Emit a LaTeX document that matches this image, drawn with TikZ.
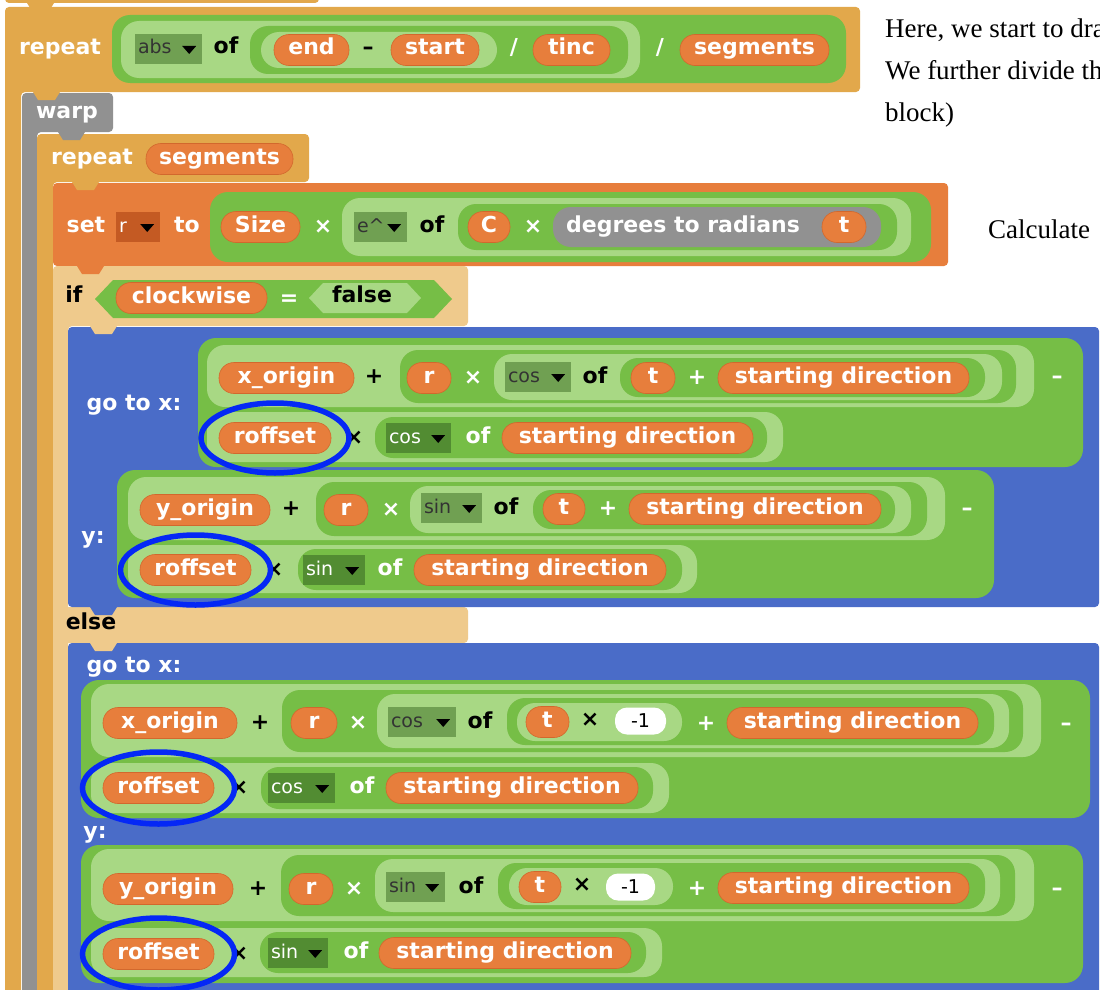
\documentclass[tikz,border=0pt]{standalone}
\usepackage{fontspec}
\newfontfamily\snapfamily{DejaVu Sans}
\newfontfamily\notefamily{Liberation Serif}
\newcommand\snapbold{\snapfamily\bfseries\fontsize{22}{24}\selectfont}
\newcommand\snapthin{\snapfamily\fontsize{19}{21}\selectfont}
\definecolor{ctrl}{RGB}{226,168,75}
\definecolor{ctrlz}{RGB}{239,202,140}
\definecolor{warpgray}{RGB}{145,145,145}
\definecolor{varo}{RGB}{231,126,60}
\definecolor{varod}{RGB}{196,90,35}
\definecolor{opd}{RGB}{118,190,70}
\definecolor{opl}{RGB}{168,216,132}
\definecolor{dropl}{RGB}{112,160,82}
\definecolor{dropd}{RGB}{82,140,50}
\definecolor{motion}{RGB}{74,108,200}
\definecolor{ringblue}{RGB}{5,40,245}
\tikzset{
  varpill/.style={fill=varo,draw=varod!60!varo,line width=0.6pt,rounded corners=15pt,
    minimum height=31pt,inner sep=0pt,text=white,font=\snapbold,text height=15pt,text depth=5pt},
  wht/.style={text=white,font=\snapbold,inner sep=0pt,text height=15pt,text depth=5pt},
  blk/.style={wht,text=black},
  dropbox/.style={rectangle,minimum height=30pt,inner sep=0pt},
  droptext/.style={font=\snapthin,inner sep=0pt,text height=14pt,text depth=4pt},
  ddl/.style={fill=dropl,text=black!80},
  ddd/.style={fill=dropd,text=white!85},
  ddo/.style={fill=varod,text=white!85},
  slot/.style={fill=white,rounded corners=12pt,minimum height=27pt,inner sep=0pt,font=\snapthin,text=black},
  note/.style={font=\notefamily\fontsize{27}{33}\selectfont,inner sep=0pt,anchor=base west},
  ring/.style={draw=ringblue,line width=5.5pt},
  blockedge/.style={rounded corners=4pt}
}
\newcommand\opzone[5]{%
  \pgfmathsetmacro\zr{min(((#5)-(#3))/2,18)}%
  \fill[#1,rounded corners=\zr pt] (#2,#3) rectangle (#4,#5);}
\newcommand\snapvar[5]{\node[varpill,minimum width={(#3)-(#2)}] (#1) at ({((#2)+(#3))/2},#4) {#5};}
\newcommand\snapdrop[6]{%
  \node[dropbox,#6,minimum width={(#3)-(#2)}] (#1) at ({((#2)+(#3))/2},#4) {};
  \node[droptext,#6,fill=none,anchor=west] (#1t) at ([xshift=3pt]#1.west) {#5};
  \fill[black] ([xshift=-20pt,yshift=3pt]#1.east) -- ++(14,0) -- ++(-7,8) -- cycle;}
\newcommand\snapslot[5]{\node[slot,minimum width={(#3)-(#2)}] (#1) at ({((#2)+(#3))/2},#4) {#5};}
\newcommand\snaptab[3]{\fill[#1] (#2,#3) -- ++(5,8) -- ++(17,0) -- ++(5,-8) -- cycle;}
\begin{document}
\begin{tikzpicture}[x=1pt,y=-1pt]
  \useasboundingbox (0,0) rectangle (1100,990);
  \clip (0,0) rectangle (1100,990);
  \fill[white] (0,0) rectangle (1100,990);

  \fill[ctrl,blockedge] (5,-10) rectangle (319,3);
  \fill[ctrl,blockedge] (5,7) -- (860,7) -- (860,92) -- (21,92) -- (21,1000) -- (5,1000) -- cycle;
  \fill[warpgray,blockedge] (22,93) -- (113,93) -- (113,132) -- (37,132) -- (37,1000) -- (22,1000) -- cycle;
  \fill[ctrl,blockedge] (37,134) -- (309,134) -- (309,182) -- (53,182) -- (53,1000) -- (37,1000) -- cycle;
  \fill[varo,blockedge] (53,183) rectangle (948,266);
  \fill[ctrlz,blockedge] (53,266) -- (468,266) -- (468,326) -- (68,326) -- (68,1000) -- (53,1000) -- cycle;
  \fill[ctrlz,blockedge] (60,607) rectangle (468,643);
  \fill[motion,blockedge] (68,327) rectangle (1099,607);
  \fill[motion,blockedge] (68,643) rectangle (1099,1000);
  \snaptab{ctrl}{27}{3}
  \snaptab{ctrl}{33}{92}
  \snaptab{warpgray}{58}{132}
  \snaptab{ctrl}{72}{182}
  \snaptab{varo}{77}{266}
  \snaptab{ctrlz}{90}{326}
  \snaptab{motion}{90}{607}
  \snaptab{ctrlz}{90}{643}

  \node[wht] (lrep1) at (60,50) {repeat};
  \opzone{opd}{112}{15}{846}{83}
  \opzone{opl}{121}{21}{640}{78}
  \opzone{opd}{250}{26}{628}{74}
  \opzone{opl}{261}{32}{497}{68}
  \snapdrop{absdd}{135}{202}{49}{abs}{ddl}
  \node[blk] (lofA) at (226,49) {of};
  \snapvar{endv}{274}{349}{50}{end}
  \node[blk] (lminA) at (368,50) {–};
  \snapvar{startv}{391}{479}{50}{start}
  \node[wht] (ldivA) at (514,50) {/};
  \snapvar{tincv}{533}{610}{50}{tinc}
  \node[wht] (ldivB) at (660,50) {/};
  \snapvar{segv}{680}{829}{50}{segments}

  \node[wht] (lwarp) at (67,113) {warp};
  \node[wht] (lrep2) at (92,159) {repeat};
  \snapvar{segvb}{146}{293}{159}{segments}

  \node[wht] (lset) at (86,227) {set};
  \snapdrop{rdd}{116}{160}{227}{r}{ddo}
  \node[wht] (lto) at (187,227) {to};
  \opzone{opd}{210}{192}{931}{262}
  \snapvar{sizev}{221}{300}{227}{Size}
  \node[wht] (ltimA) at (323,228) {×};
  \opzone{opl}{342}{198}{911}{256}
  \snapdrop{expdd}{354}{407}{227}{e\textasciicircum}{ddl}
  \node[blk] (lofB) at (432,227) {of};
  \opzone{opd}{458}{204}{897}{250}
  \snapvar{cv}{468}{510}{227}{C}
  \node[wht] (ltimB) at (533,228) {×};
  \opzone{warpgray}{553}{207}{881}{247}
  \node[wht,anchor=west] (ldeg) at (566,227) {degrees to radians};
  \snapvar{tva}{822}{866}{227}{t}

  \node[blk] (lif) at (74,297) {if};
  \fill[opd] (95,299) -- (113,280) -- (434,280) -- (452,299) -- (434,318) -- (113,318) -- cycle;
  \snapvar{clockv}{116}{267}{298}{clockwise}
  \node[wht] (leq) at (289,300) {=};
  \fill[opl] (309,298) -- (323,283) -- (407,283) -- (421,298) -- (407,313) -- (323,313) -- cycle;
  \node[blk] (lfalse) at (362,297) {false};

  \node[wht] (lgoA) at (134,405) {go to x:};
  \opzone{opd}{198}{338}{1083}{467}
  \opzone{opl}{207}{345}{1034}{407}
  \snapvar{xova}{219}{354}{378}{x\_origin}
  \node[blk] (lplA) at (374,378) {+};
  \opzone{opd}{400}{350}{1016}{403}
  \snapvar{rva}{407}{451}{378}{r}
  \node[wht] (ltimC) at (473,379) {×};
  \opzone{opl}{494}{354}{1002}{400}
  \snapdrop{cosdda}{505}{571}{377}{cos}{ddl}
  \node[blk] (lofC) at (595,378) {of};
  \opzone{opd}{620}{358}{985}{397}
  \snapvar{tvb}{631}{675}{378}{t}
  \node[wht] (lplB) at (697,379) {+};
  \snapvar{sdva}{718}{969}{378}{starting direction}
  \node[wht] (lminB) at (1057,378) {–};
  \opzone{opl}{207}{412}{783}{462}
  \snapvar{roffa}{219}{331}{438}{roffset}
  \node[blk] (ltimD) at (354,439) {×};
  \opzone{opd}{375}{417}{767}{458}
  \snapdrop{cosddb}{386}{451}{438}{cos}{ddd}
  \node[wht] (lofD) at (478,438) {of};
  \snapvar{sdvb}{502}{753}{438}{starting direction}

  \node[wht] (lyA) at (93,538) {y:};
  \opzone{opd}{117}{470}{994}{598}
  \opzone{opl}{128}{477}{945}{540}
  \snapvar{yova}{140}{270}{510}{y\_origin}
  \node[blk] (lplC) at (291,510) {+};
  \opzone{opd}{316}{482}{927}{536}
  \snapvar{rvb}{324}{368}{510}{r}
  \node[wht] (ltimE) at (391,511) {×};
  \opzone{opl}{410}{486}{911}{533}
  \snapdrop{sindda}{421}{482}{508}{sin}{ddl}
  \node[blk] (lofE) at (506,509) {of};
  \opzone{opd}{533}{490}{895}{529}
  \snapvar{tvc}{543}{585}{509}{t}
  \node[wht] (lplD) at (608,510) {+};
  \snapvar{sdvc}{629}{881}{509}{starting direction}
  \node[wht] (lminC) at (967,510) {–};
  \opzone{opl}{128}{545}{697}{593}
  \snapvar{roffb}{140}{251}{570}{roffset}
  \node[blk] (ltimF) at (274,571) {×};
  \opzone{opd}{298}{549}{682}{590}
  \snapdrop{sinddb}{303}{365}{570}{sin}{ddd}
  \node[wht] (lofF) at (390,570) {of};
  \snapvar{sdvd}{414}{666}{570}{starting direction}

  \node[blk] (lelse) at (91,624) {else};

  \node[wht] (lgoB) at (134,667) {go to x:};
  \opzone{opd}{81}{680}{1090}{818}
  \opzone{opl}{91}{684}{1041}{757}
  \snapvar{xovb}{103}{237}{723}{x\_origin}
  \node[blk] (lplE) at (260,724) {+};
  \opzone{opd}{282}{690}{1023}{752}
  \snapvar{rvc}{291}{337}{723}{r}
  \node[wht] (ltimG) at (358,724) {×};
  \opzone{opl}{377}{694}{1009}{748}
  \snapdrop{cosddc}{388}{456}{722}{cos}{ddl}
  \node[blk] (lofG) at (480,723) {of};
  \opzone{opd}{507}{698}{994}{745}
  \opzone{opl}{517}{703}{682}{741}
  \snapvar{tvd}{526}{569}{722}{t}
  \node[blk] (ltimH) at (590,721) {×};
  \snapslot{slota}{615}{666}{721}{-1}
  \node[wht] (lplF) at (706,725) {+};
  \snapvar{sdve}{727}{978}{723}{starting direction}
  \node[wht] (lminD) at (1066,725) {–};
  \opzone{opl}{91}{763}{669}{813}
  \snapvar{roffc}{103}{214}{788}{roffset}
  \node[blk] (ltimI) at (239,789) {×};
  \opzone{opd}{261}{767}{653}{809}
  \snapdrop{cosddd}{268}{335}{788}{cos}{ddd}
  \node[wht] (lofH) at (362,788) {of};
  \snapvar{sdvf}{386}{638}{788}{starting direction}

  \node[wht] (lyB) at (95,833) {y:};
  \opzone{opd}{81}{845}{1083}{983}
  \opzone{opl}{91}{849}{1034}{921}
  \snapvar{yovb}{103}{233}{889}{y\_origin}
  \node[blk] (lplG) at (258,890) {+};
  \opzone{opd}{281}{855}{1015}{916}
  \snapvar{rvd}{289}{333}{889}{r}
  \node[wht] (ltimJ) at (354,890) {×};
  \opzone{opl}{375}{859}{1000}{912}
  \snapdrop{sinddc}{386}{445}{887}{sin}{ddl}
  \node[blk] (lofI) at (471,888) {of};
  \opzone{opd}{498}{863}{985}{909}
  \opzone{opl}{509}{868}{673}{905}
  \snapvar{tve}{519}{561}{887}{t}
  \node[blk] (ltimK) at (582,886) {×};
  \snapslot{slotb}{606}{655}{887}{-1}
  \node[wht] (lplH) at (697,890) {+};
  \snapvar{sdvg}{718}{969}{888}{starting direction}
  \node[wht] (lminE) at (1057,890) {–};
  \opzone{opl}{91}{928}{662}{977}
  \snapvar{roffd}{103}{214}{954}{roffset}
  \node[blk] (ltimL) at (239,955) {×};
  \opzone{opd}{260}{932}{646}{973}
  \snapdrop{sinddd}{268}{328}{953}{sin}{ddd}
  \node[wht] (lofJ) at (356,953) {of};
  \snapvar{sdvh}{379}{631}{953}{starting direction}

  \draw[ring] (roffa) ellipse [x radius=74, y radius=35];
  \draw[ring] (roffb) ellipse [x radius=75, y radius=35];
  \draw[ring] (roffc) ellipse [x radius=76, y radius=36];
  \draw[ring] (roffd) ellipse [x radius=76, y radius=36];

  \node[note] (noteA) at (885,38) {Here, we start to dra};
  \node[note] (noteB) at (885,80) {We further divide th};
  \node[note] (noteC) at (885,121) {block)};
  \node[note] (noteD) at (988,238) {Calculate};
\end{tikzpicture}
\end{document}
